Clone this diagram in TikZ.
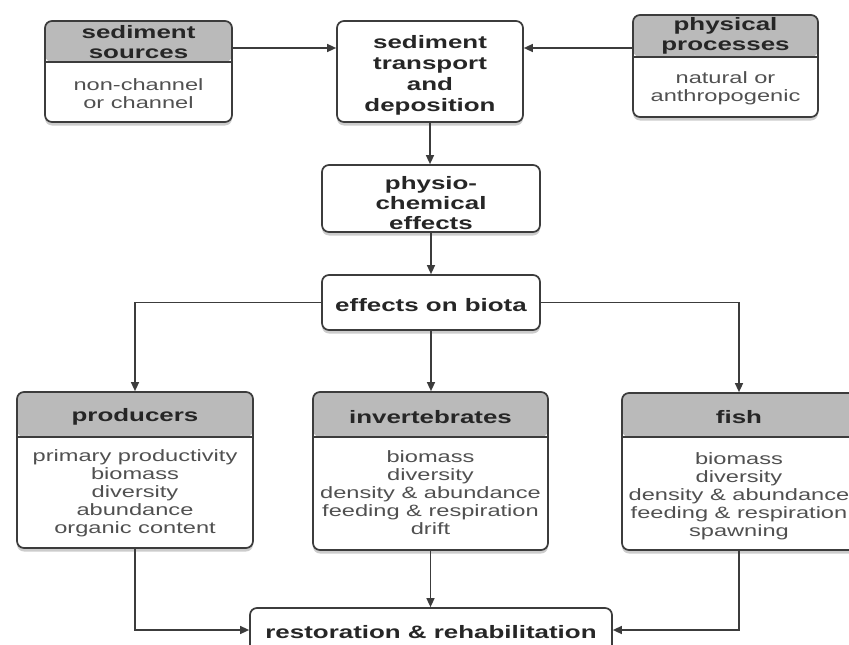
\documentclass[tikz,border=0pt]{standalone}
\usepackage{fontspec}
\setmainfont{Liberation Sans}[FakeStretch=1.44]
\usetikzlibrary{arrows.meta,shadows}
\definecolor{hdrgray}{RGB}{186,186,186}
\definecolor{linegray}{RGB}{60,60,60}
\definecolor{txtgray}{RGB}{80,80,80}
\tikzset{
  box/.style={draw=linegray, line width=1.7pt, rounded corners=7pt, fill=white,
    drop shadow={opacity=0.4, shadow xshift=0pt, shadow yshift=-3.5pt}, inner sep=0pt},
  hbox/.style={box, path picture={
      \fill[hdrgray] (path picture bounding box.north west) rectangle
        ([yshift=-#1]path picture bounding box.north east);
      \draw[linegray, line width=1.2pt] ([yshift=-#1]path picture bounding box.north west)
        -- ([yshift=-#1]path picture bounding box.north east);}},
  head/.style={font=\bfseries\fontsize{18}{20.5}\selectfont, text=black!85, align=center},
  body/.style={font=\fontsize{16.4}{18}\selectfont, text=txtgray, align=center},
  arr/.style={draw=linegray, line width=1.4pt, -{Triangle[length=9pt,width=8pt]}}
}
\begin{document}
\begin{tikzpicture}[x=1pt,y=-1pt]
  \useasboundingbox (0,0) rectangle (849,645);
  \node[hbox=41pt, minimum width=187pt, minimum height=101pt] (src) at (138.5,71.5) {};
  \node[head] (srchead) at (138.5,42) {sediment\\sources};
  \node[body] (srcbody) at (138.5,94) {non-channel\\or channel};
  \node[box, minimum width=186pt, minimum height=101pt] (trans) at (430,71.5) {};
  \node[head, font=\bfseries\fontsize{18}{21}\selectfont] (transtext) at (430,75.5) {sediment\\transport\\and\\deposition};
  \node[hbox=42pt, minimum width=185pt, minimum height=102pt] (phys) at (725.5,66) {};
  \node[head] (physhead) at (725.5,36) {physical\\processes};
  \node[body] (physbody) at (725.5,88.5) {natural or\\anthropogenic};
  \node[box, minimum width=218pt, minimum height=67pt] (pc) at (431,198.5) {};
  \node[head, font=\bfseries\fontsize{18}{20}\selectfont] (pctext) at (431,203) {physio-\\chemical\\effects};
  \node[box, minimum width=218pt, minimum height=55pt] (bio) at (431,302.5) {};
  \node[head] (biotext) at (431,305) {effects on biota};
  \node[hbox=45pt, minimum width=236pt, minimum height=156pt] (prod) at (135,470) {};
  \node[head] (prodhead) at (135,417) {producers};
  \node[body] (prodbody) at (135,493) {primary productivity\\biomass\\diversity\\abundance\\organic content};
  \node[hbox=45pt, minimum width=235pt, minimum height=158pt] (inv) at (430.5,471) {};
  \node[head] (invhead) at (430.5,417) {invertebrates};
  \node[body] (invbody) at (430.5,493) {biomass\\diversity\\density \& abundance\\feeding \& respiration\\drift};
  \node[hbox=44pt, minimum width=234pt, minimum height=157pt] (fish) at (739,471.5) {};
  \node[head] (fishhead) at (739,417) {fish};
  \node[body] (fishbody) at (739,496) {biomass\\diversity\\density \& abundance\\feeding \& respiration\\spawning};
  \node[box, minimum width=362pt, minimum height=44pt] (rest) at (431,630) {};
  \node[head] (resttext) at (431,632) {restoration \& rehabilitation};
  \draw[arr] ([yshift=23.5pt]src.east) -- ([yshift=23.5pt]src.east -| trans.west);
  \draw[arr] ([yshift=18pt]phys.west) -- ([yshift=18pt]phys.west -| trans.east);
  \draw[arr] (trans.south) -- (trans.south |- pc.north);
  \draw[arr] (pc) -- (bio);
  \draw[arr] (bio.west) -| (prod.north);
  \draw[arr] (bio.south) -- (bio.south |- inv.north);
  \draw[arr] (bio.east) -| (fish.north);
  \draw[arr] (prod.south) |- (rest.west);
  \draw[arr] (inv.south) -- (inv.south |- rest.north);
  \draw[arr] (fish.south) |- (rest.east);
\end{tikzpicture}
\end{document}
